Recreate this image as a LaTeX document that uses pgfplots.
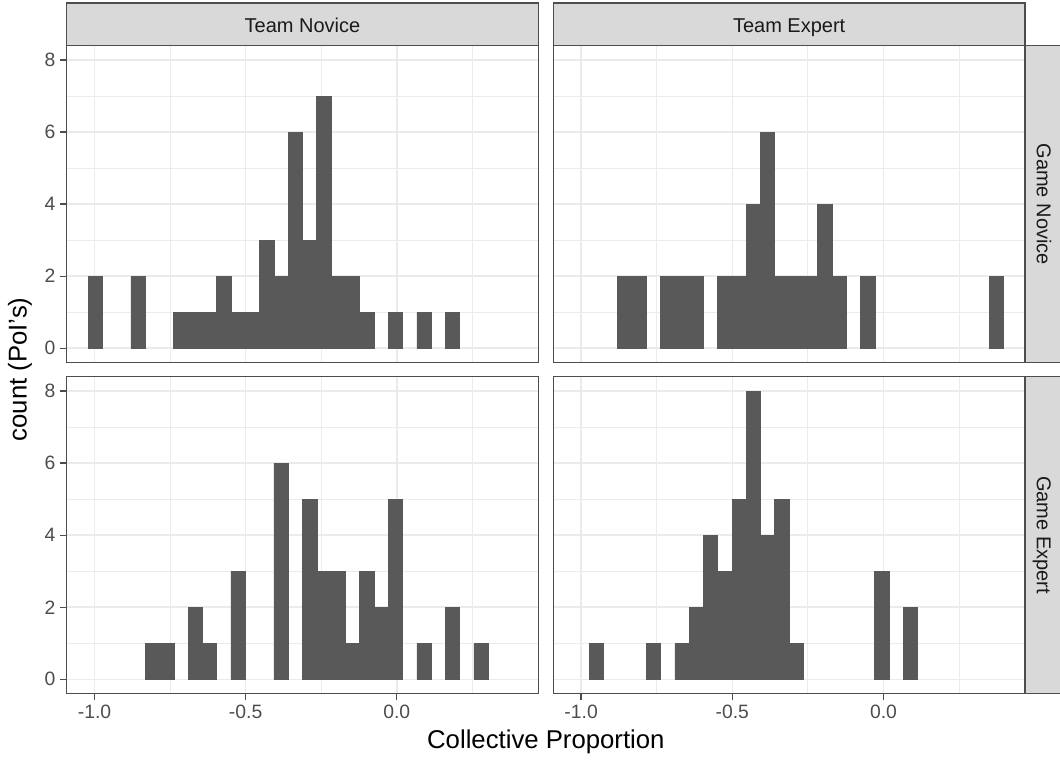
\documentclass[border=0pt]{standalone}
\usepackage{pgfplots}
\usepackage{pgfplotstable}
\pgfplotsset{compat=1.18}
\usepackage{fontspec}
\setmainfont{Liberation Sans}
\definecolor{barfill}{HTML}{595959}
\definecolor{gridc}{HTML}{EBEBEB}
\definecolor{framec}{HTML}{4D4D4D}
\definecolor{stripc}{HTML}{D9D9D9}
\definecolor{ticklab}{HTML}{4D4D4D}
\definecolor{striptext}{HTML}{1A1A1A}

% bin centres (bin width 0.04727) and counts; empty bins omitted
\pgfplotstableread{
x y
-0.997 2
-0.856 2
-0.714 1
-0.666 1
-0.619 1
-0.572 2
-0.525 1
-0.477 1
-0.430 3
-0.383 2
-0.336 6
-0.288 3
-0.241 7
-0.194 2
-0.146 2
-0.099 1
-0.005 1
0.090 1
0.184 1
}\tabTL

\pgfplotstableread{
x y
-0.856 2
-0.808 2
-0.714 2
-0.666 2
-0.619 2
-0.525 2
-0.477 2
-0.430 4
-0.383 6
-0.336 2
-0.288 2
-0.241 2
-0.194 4
-0.146 2
-0.052 2
0.373 2
}\tabTR

\pgfplotstableread{
x y
-0.808 1
-0.761 1
-0.666 2
-0.619 1
-0.525 3
-0.383 6
-0.288 5
-0.241 3
-0.194 3
-0.146 1
-0.099 3
-0.052 2
-0.005 5
0.090 1
0.184 2
0.279 1
}\tabBL

\pgfplotstableread{
x y
-0.950 1
-0.761 1
-0.666 1
-0.619 2
-0.572 4
-0.525 3
-0.477 5
-0.430 8
-0.383 4
-0.336 5
-0.288 1
-0.005 3
0.090 2
}\tabBR

\pgfplotsset{
  facet/.style={
    scale only axis, width=353.7pt, height=237.8pt,
    anchor=north west,
    xmin=-1.092, xmax=0.468, ymin=-0.4, ymax=8.4,
    xtick={-1,-0.5,0}, ytick={0,2,4,6,8},
    minor xtick={-0.75,-0.25,0.25}, minor ytick={1,3,5,7},
    grid=both,
    major grid style={gridc, line width=1.2pt},
    minor grid style={gridc, line width=0.6pt},
    axis line style={framec, line width=1pt},
    tick align=outside, major tick length=5pt, minor tick length=0pt,
    tick style={framec, line width=1pt},
    xtick pos=bottom, ytick pos=left,
    ticklabel style={font=\fontsize{14.5}{14.5}\selectfont, text=ticklab},
    /pgf/number format/assume math mode=true,
    xticklabels={-1.0,-0.5,0.0},
    yticklabels={0,2,4,6,8},
  },
  noxlab/.style={xticklabels={}, xtick style={draw=none}},
  noylab/.style={yticklabels={}, ytick style={draw=none}},
  hist/.style={ybar, bar width=0.04727, fill=barfill, draw=barfill, line width=0.5pt},
}

\begin{document}
\begin{tikzpicture}
\useasboundingbox (0,0) rectangle (795pt,-570.75pt);

% top-left
\begin{axis}[facet, noxlab, at={(50pt,-34.2pt)}]
\addplot[hist] table[x=x,y=y] {\tabTL};
\end{axis}
% top-right
\begin{axis}[facet, noxlab, noylab, at={(415pt,-34.2pt)}]
\addplot[hist] table[x=x,y=y] {\tabTR};
\end{axis}
% bottom-left
\begin{axis}[facet, at={(50pt,-282.5pt)}]
\addplot[hist] table[x=x,y=y] {\tabBL};
\end{axis}
% bottom-right
\begin{axis}[facet, noylab, at={(415pt,-282.5pt)}]
\addplot[hist] table[x=x,y=y] {\tabBR};
\end{axis}

% strips
\draw[framec, line width=1pt, fill=stripc] (50pt,-2.25pt) rectangle (403.7pt,-34.2pt);
\draw[framec, line width=1pt, fill=stripc] (415pt,-2.25pt) rectangle (768.7pt,-34.2pt);
\node[text=striptext, font=\fontsize{15}{15}\selectfont, anchor=base] at (226.85pt,-24.5pt) {Team Novice};
\node[text=striptext, font=\fontsize{15}{15}\selectfont, anchor=base] at (591.85pt,-24.5pt) {Team Expert};

\draw[framec, line width=1pt, fill=stripc] (768.7pt,-34.2pt) rectangle (801pt,-272pt);
\draw[framec, line width=1pt, fill=stripc] (768.7pt,-282.5pt) rectangle (801pt,-520pt);
\node[text=striptext, font=\fontsize{15}{15}\selectfont, rotate=-90, anchor=base] at (777.6pt,-153.1pt) {Game Novice};
\node[text=striptext, font=\fontsize{15}{15}\selectfont, rotate=-90, anchor=base] at (777.6pt,-401.2pt) {Game Expert};

% axis titles
\node[font=\fontsize{19.3}{19.3}\selectfont] at (409.4pt,-556.5pt) {Collective Proportion};
\node[font=\fontsize{19.3}{19.3}\selectfont, rotate=90] at (15pt,-277.1pt) {count (PoI's)};
\end{tikzpicture}
\end{document}
